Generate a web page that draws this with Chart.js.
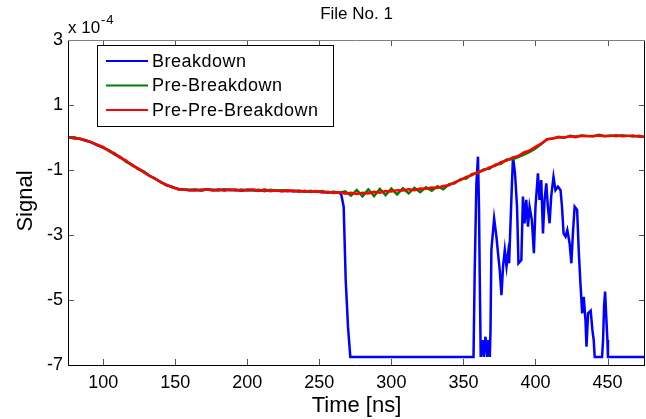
<!DOCTYPE html>
<html>
<head>
<meta charset="utf-8">
<script src="https://cdn.jsdelivr.net/npm/chart.js@4/dist/chart.umd.min.js"></script>
<style>
html,body{margin:0;padding:0;background:#fff;}
#wrap{width:646px;height:419px;}
</style>
</head>
<body>
<div id="wrap"><canvas id="c" width="646" height="419"></canvas></div>
<script>
// ---- data (values in units of 1e-4) ----
const titleText = "File No. 1";
const xTitle = "Time [ns]";
const yTitle = "Signal";
const seriesNames = ["Breakdown", "Pre-Breakdown", "Pre-Pre-Breakdown"];
const xTicks = [100, 150, 200, 250, 300, 350, 400, 450];
const yTicks = [-7, -5, -3, -1, 1, 3];

const times = [76,80,84,88,92,96,100,104,108,112,116,120,124,128,132,136,140,144,148,152,
  156,160,164,168,172,176,180,184,188,192,196,200,204,208,212,216,220,224,228,232,
  236,240,244,248,252,256,260,264,268,272,276,280,284,288,292,296,300,304,308,312,
  316,320,324,328,332,336,340,344,348,352,356,360,364,368,372,376,380,384,388,392,
  396,400,404,408,412,416,420,424,428,432,436,440,444,448,452,456,460,464,468,472,476];

const prePreBreakdown = [0.01,-0.02,-0.04,-0.09,-0.15,-0.23,-0.29,-0.42,-0.49,-0.63,
  -0.71,-0.86,-0.94,-1.07,-1.17,-1.27,-1.37,-1.47,-1.52,-1.59,
  -1.60,-1.62,-1.63,-1.60,-1.60,-1.63,-1.59,-1.64,-1.60,-1.61,
  -1.64,-1.61,-1.60,-1.64,-1.61,-1.65,-1.62,-1.66,-1.63,-1.64,
  -1.67,-1.64,-1.68,-1.65,-1.69,-1.67,-1.71,-1.68,-1.73,-1.70,
  -1.74,-1.70,-1.72,-1.67,-1.70,-1.65,-1.66,-1.62,-1.63,-1.59,
  -1.62,-1.57,-1.58,-1.54,-1.55,-1.49,-1.47,-1.37,-1.31,-1.21,
  -1.16,-1.06,-1.01,-0.92,-0.87,-0.76,-0.71,-0.62,-0.57,-0.46,
  -0.40,-0.29,-0.19,-0.06,-0.03,0.01,0.00,0.04,0.01,0.05,
  0.04,0.05,0.06,0.04,0.05,0.07,0.04,0.05,0.06,0.02,0.03];

const preBreakdown = [0.00,0.01,-0.05,-0.08,-0.16,-0.22,-0.32,-0.39,-0.52,-0.60,
  -0.75,-0.83,-0.97,-1.04,-1.18,-1.26,-1.38,-1.45,-1.54,-1.58,
  -1.61,-1.61,-1.60,-1.63,-1.59,-1.62,-1.62,-1.60,-1.61,-1.63,
  -1.60,-1.63,-1.62,-1.61,-1.65,-1.61,-1.64,-1.63,-1.62,-1.66,
  -1.63,-1.67,-1.64,-1.68,-1.65,-1.70,-1.67,-1.70,-1.66,-1.79,
  -1.62,-1.81,-1.60,-1.80,-1.58,-1.77,-1.57,-1.75,-1.56,-1.72,
  -1.55,-1.68,-1.53,-1.64,-1.50,-1.59,-1.44,-1.41,-1.28,-1.26,
  -1.12,-1.10,-0.98,-0.96,-0.84,-0.81,-0.68,-0.67,-0.60,-0.53,
  -0.44,-0.34,-0.20,-0.05,-0.03,0.02,-0.01,0.05,0.03,0.06,
  0.05,0.03,0.08,0.05,0.06,0.04,0.07,0.05,0.03,0.05,0.01];

const breakdownT = [76,80,84,88,92,96,100,104,108,112,116,120,124,128,132,136,140,144,148,152,
  156,160,164,168,172,176,180,184,188,192,196,200,204,208,212,216,220,224,228,232,
  236,240,244,248,252,256,260,264,265.3,266.9,268.3,269.9,271.5,357.0,
  357.8,359.0,360.1,360.8,361.3,362.0,363.2,364.1,365.3,366.4,367.4,368.3,368.8,369.4,
  371.3,372.9,374.0,375.2,376.4,377.5,378.7,379.9,381.0,381.7,382.6,383.5,384.4,385.8,
  387.2,388.2,390.2,391.3,392.4,393.6,394.8,395.9,397.5,398.9,400.0,401.7,402.8,404.0,
  405.2,406.3,407.5,408.6,409.8,410.9,412.5,413.9,415.6,417.4,418.4,419.5,420.9,422.1,
  423.7,424.9,426.1,427.2,428.9,430.0,431.2,432.4,433.5,434.7,435.4,436.5,438.3,439.5,
  440.4,441.1,446.2,446.9,447.6,448.3,449.0,449.9,450.3,476];

const breakdownV = [0.00,-0.02,-0.04,-0.10,-0.15,-0.24,-0.31,-0.40,-0.52,-0.61,
  -0.74,-0.84,-0.96,-1.05,-1.17,-1.27,-1.37,-1.47,-1.52,-1.59,
  -1.60,-1.62,-1.61,-1.63,-1.60,-1.61,-1.62,-1.60,-1.62,-1.61,
  -1.64,-1.61,-1.62,-1.64,-1.61,-1.63,-1.64,-1.63,-1.65,-1.64,
  -1.65,-1.66,-1.66,-1.67,-1.68,-1.69,-1.68,-1.70,-1.77,-2.13,-4.38,-5.82,-6.75,-6.75,
  -4.18,-1.41,-0.59,-2.13,-4.18,-6.75,-6.23,-6.75,-6.13,-6.75,-6.23,-6.75,-5.92,-3.46,
  -2.49,-3.05,-3.56,-4.08,-4.85,-3.97,-3.46,-3.97,-3.56,-3.87,-2.74,-1.62,-0.59,-1.10,
  -2.13,-3.87,-3.77,-1.82,-2.64,-1.92,-2.74,-2.13,-2.54,-3.56,-2.13,-1.10,-1.92,-1.31,
  -2.95,-1.92,-1.41,-2.13,-2.64,-1.82,-1.21,-1.62,-1.51,-1.62,-2.13,-2.95,-3.05,-2.85,
  -3.26,-3.87,-2.85,-2.13,-2.23,-3.46,-4.49,-5.41,-4.90,-5.62,-6.44,-5.41,-5.33,-5.92,
  -6.23,-6.75,-6.75,-6.23,-5.21,-4.74,-5.41,-6.23,-6.75,-6.75];

const seriesColors = ["#0000ff", "#008000", "#ff0000"];

// ---- chart ----
const FONT = "'Liberation Sans', Arial, sans-serif";

const framePlugin = {
  id: 'frame',
  afterDraw(chart) {
    const ctx = chart.ctx;
    const a = chart.chartArea;
    const xs = chart.scales.x, ys = chart.scales.y;
    ctx.save();
    // inside ticks
    ctx.strokeStyle = '#555';
    ctx.lineWidth = 1;
    ctx.beginPath();
    const tl = 6;
    xTicks.forEach(v => {
      const px = Math.round(xs.getPixelForValue(v)) + 0.5;
      ctx.moveTo(px, a.bottom); ctx.lineTo(px, a.bottom - tl);
      ctx.moveTo(px, a.top); ctx.lineTo(px, a.top + tl);
    });
    yTicks.forEach(v => {
      const py = Math.round(ys.getPixelForValue(v)) + 0.5;
      ctx.moveTo(a.left, py); ctx.lineTo(a.left + tl, py);
      ctx.moveTo(a.right, py); ctx.lineTo(a.right - tl, py);
    });
    ctx.stroke();
    // box
    ctx.strokeStyle = '#000';
    ctx.beginPath();
    ctx.moveTo(a.left + 0.5, a.top); ctx.lineTo(a.left + 0.5, a.bottom + 0.5);
    ctx.lineTo(a.right - 0.5, a.bottom + 0.5); ctx.lineTo(a.right - 0.5, a.top);
    ctx.stroke();
    ctx.strokeStyle = '#808080';
    ctx.beginPath();
    ctx.moveTo(a.left, a.top + 0.5); ctx.lineTo(a.right, a.top + 0.5);
    ctx.stroke();

    // legend
    const lx = 97.5, ly = 45.5, lw = 236, lh = 81;
    ctx.fillStyle = '#fff';
    ctx.fillRect(lx, ly, lw, lh);
    ctx.strokeStyle = '#000';
    ctx.strokeRect(lx, ly, lw, lh);
    chart.data.datasets.forEach((ds, i) => {
      const cy = 61 + i * 24.5;
      ctx.strokeStyle = ds.borderColor;
      ctx.lineWidth = 2;
      ctx.beginPath();
      ctx.moveTo(106, cy); ctx.lineTo(148, cy);
      ctx.stroke();
      ctx.fillStyle = '#000';
      ctx.font = "18px " + FONT;
      ctx.letterSpacing = '0.5px';
      ctx.textAlign = 'left';
      ctx.textBaseline = 'middle';
      ctx.fillText(ds.label, 152, cy + 1);
    });
    ctx.letterSpacing = '0px';

    // texts
    ctx.fillStyle = '#000';
    ctx.textAlign = 'center';
    ctx.textBaseline = 'middle';
    ctx.font = "17px " + FONT;
    ctx.fillText(titleText, (a.left + a.right) / 2, 14);
    ctx.font = "22px " + FONT;
    ctx.fillText(xTitle, (a.left + a.right) / 2, 406);
    ctx.save();
    ctx.translate(26, 201);
    ctx.rotate(-Math.PI / 2);
    ctx.fillText(yTitle, 0, 0);
    ctx.restore();
    // exponent
    ctx.textAlign = 'left';
    ctx.textBaseline = 'alphabetic';
    ctx.font = "17px " + FONT;
    ctx.fillText("x 10", 68, 33);
    ctx.font = "13px " + FONT;
    ctx.letterSpacing = '1px';
    ctx.fillText("-4", 101, 24);
    ctx.letterSpacing = '0px';
    ctx.restore();
  }
};

function pairs(xsArr, ysArr) { return xsArr.map((t, i) => ({ x: t, y: ysArr[i] })); }

new Chart(document.getElementById('c'), {
  type: 'line',
  data: {
    datasets: [
      { label: seriesNames[0], data: pairs(breakdownT, breakdownV), borderColor: seriesColors[0], order: 3 },
      { label: seriesNames[1], data: pairs(times, preBreakdown), borderColor: seriesColors[1], order: 2 },
      { label: seriesNames[2], data: pairs(times, prePreBreakdown), borderColor: seriesColors[2], order: 1 }
    ]
  },
  options: {
    responsive: false,
    animation: false,
    devicePixelRatio: 1,
    layout: { padding: { top: 40, right: 1, left: 0, bottom: 0 } },
    elements: {
      line: { borderWidth: 2.5, tension: 0, fill: false },
      point: { radius: 0, hoverRadius: 0 }
    },
    plugins: { legend: { display: false }, title: { display: false }, tooltip: { enabled: false } },
    scales: {
      x: {
        type: 'linear', min: 75.6, max: 476,
        grid: { display: false, drawTicks: false },
        border: { display: false },
        afterBuildTicks(s) { s.ticks = xTicks.map(v => ({ value: v })); },
        afterFit(s) { s.height = 54; },
        ticks: { color: '#000', font: { family: FONT, size: 18 }, padding: 7, maxRotation: 0, autoSkip: false,
                 callback: v => String(v) }
      },
      y: {
        type: 'linear', min: -7, max: 3,
        grid: { display: false, drawTicks: false },
        border: { display: false },
        afterBuildTicks(s) { s.ticks = yTicks.map(v => ({ value: v })); },
        afterFit(s) { s.width = 68; },
        ticks: { color: '#000', font: { family: FONT, size: 18 }, padding: 5, autoSkip: false,
                 callback: v => String(v) }
      }
    }
  },
  plugins: [framePlugin]
});
</script>
</body>
</html>
